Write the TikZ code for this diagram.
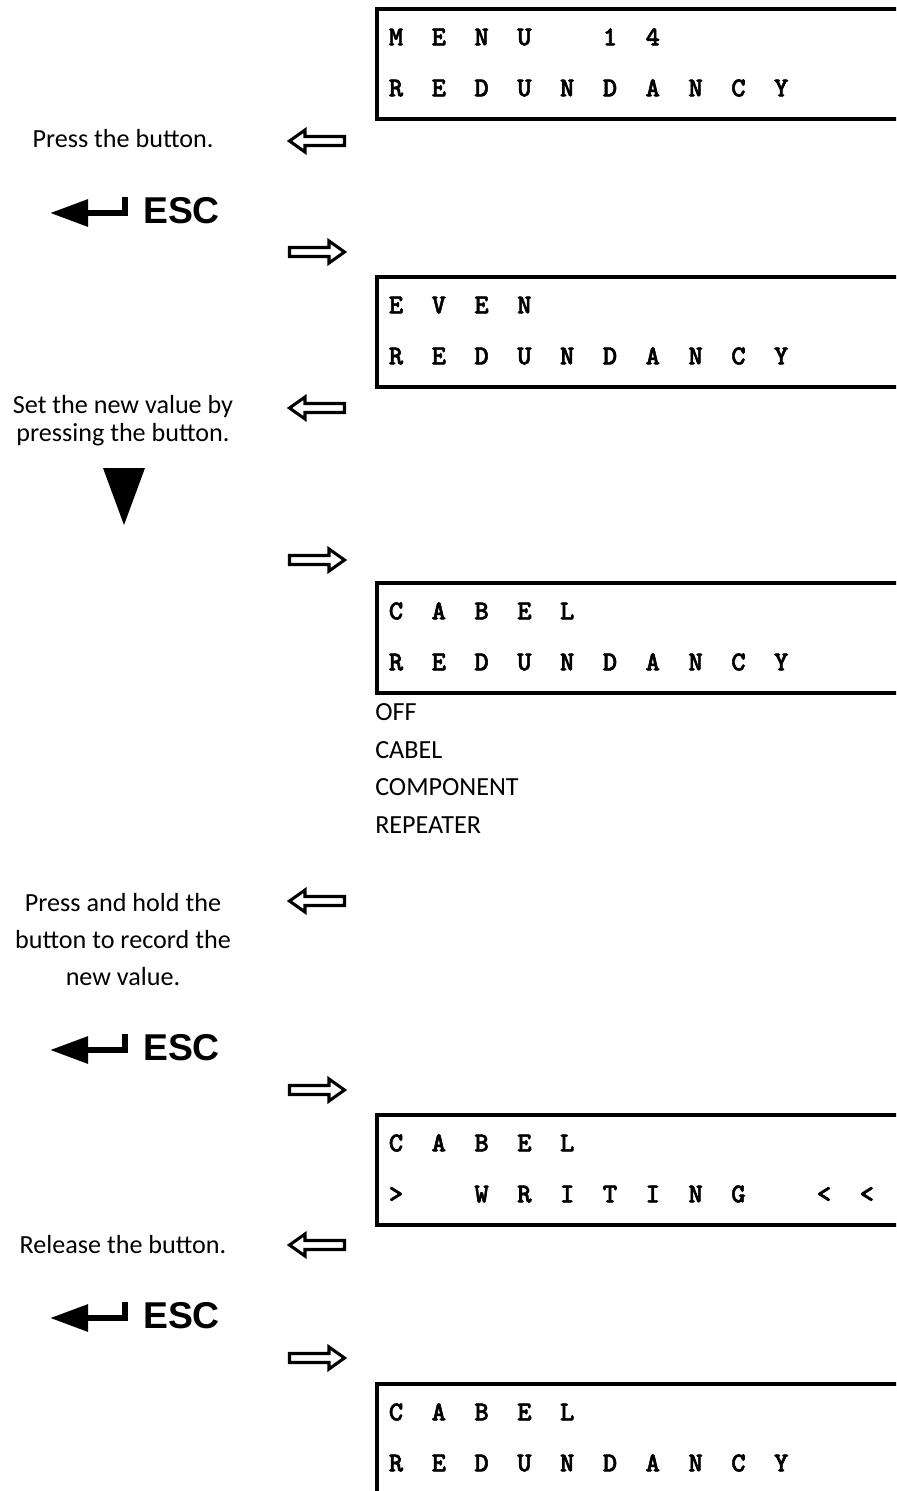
\documentclass[tikz,border=0pt]{standalone}
\usepackage{fontspec}
\usepackage{tikz}
\usetikzlibrary{matrix,arrows.meta}
\newfontfamily\labelfont{Carlito}
\newfontfamily\keyfont{Liberation Sans}
\newfontfamily\lcdfam{lmmonolt10-bold.otf}[FakeBold=2]
\newcommand{\lcdfont}{\lcdfam\fontsize{20.5pt}{20.5pt}\selectfont}
% one display: name, top of frame, first row, second row
\newcommand{\lcd}[4]{%
  \draw[lcdframe] (377,#2) rectangle (930,#2+110);
  \matrix (#1) [lcd, anchor=north west] at (374.6,#2+2.5) {#3\\#4\\};
}
\tikzset{
  lcd/.style={matrix of nodes, ampersand replacement=\&, nodes in empty cells,
    inner sep=0pt, outer sep=0pt, column sep=0pt, row sep=0pt,
    nodes={font=\lcdfont, minimum width=32.1pt, minimum height=38.25pt,
      text height=12.5pt, text depth=0pt, inner sep=0pt, outer sep=0pt, anchor=center}},
  lcdframe/.style={line width=3pt},
  hint/.style={font=\labelfont\fontsize{19.6pt}{21pt}\selectfont, align=center, anchor=base, inner sep=0pt},
  esc/.style={font=\keyfont\bfseries\fontsize{28pt}{28pt}\selectfont, anchor=base, inner sep=0pt},
  escarrow/.style={line width=4.5pt, -{Triangle[length=28.5pt,width=19.5pt]}},
  hollowarrow/.pic={\draw[line width=2.3pt] (1.5,-4.5) -- (41,-4.5) -- (41,-11) -- (56.5,0)
      -- (41,11) -- (41,4.5) -- (1.5,4.5) -- cycle;}
}

\begin{document}
\begin{tikzpicture}[x=0.75pt,y=-0.75pt]
        \useasboundingbox (0,0) rectangle (896,1491);
        \clip (0,0) rectangle (896,1491);

        % Displays
        \lcd{lcdMenu}{9}{M\&E\&N\&U\&\&1\&4}{R\&E\&D\&U\&N\&D\&A\&N\&C\&Y}
        \lcd{lcdEven}{277}{E\&V\&E\&N}{R\&E\&D\&U\&N\&D\&A\&N\&C\&Y}
        \lcd{lcdCabel}{583}{C\&A\&B\&E\&L}{R\&E\&D\&U\&N\&D\&A\&N\&C\&Y}
        \lcd{lcdWrite}{1115}{C\&A\&B\&E\&L}{>\&\&W\&R\&I\&T\&I\&N\&G\&\&<\&<}
        \lcd{lcdDone}{1384}{C\&A\&B\&E\&L}{R\&E\&D\&U\&N\&D\&A\&N\&C\&Y}

        %base of a multi-line node is its last line
        \node[hint, anchor=base west, align=left, font=\labelfont\fontsize{19.6pt}{28.1pt}\selectfont]
                (optList) at (375,833) {OFF\\CABEL\\COMPONENT\\REPEATER};

        % Hints
        \node[hint] (pressHint) at (123,147) {Press the button.};
        \node[hint] (setHint) at (123,441) {Set the new value by\\pressing the button.};
        \node[hint, font=\labelfont\fontsize{19.6pt}{27.75pt}\selectfont]
                (holdHint) at (123,985) {Press and hold the\\button to record the\\new value.};
        \node[hint] (releaseHint) at (123,1253) {Release the button.};

        % ESC keys
        \node[esc] (escA) at (181.5,223) {ESC};
        \draw[escarrow] (125,197) |- (50,213);
        \node[esc] (escB) at (181.5,1060) {ESC};
        \draw[escarrow] (125,1034) |- (50,1050);
        \node[esc] (escC) at (181.5,1328) {ESC};
        \draw[escarrow] (125,1302) |- (50,1318);

        % Down key
        \fill (103,468) -- (145,468) -- (124,525) -- cycle;

        % Arrows
        \foreach \y in {141,408,901,1245}
                \pic[xscale=-1] at (346,\y) {hollowarrow};
        \foreach \y in {252,560,1090,1358}
                \pic at (288,\y) {hollowarrow};
\end{tikzpicture}
\end{document}
